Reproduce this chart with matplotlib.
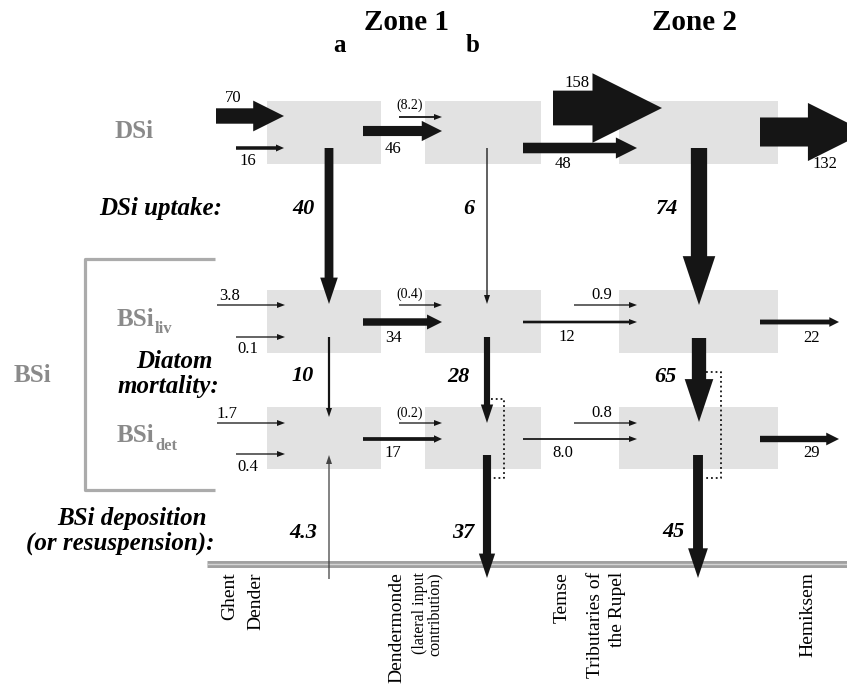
"""
Si budget of the upper Scheldt estuary (zone 1 a/b, zone 2)
DSi / BSi fluxes redrawn as a box-and-arrow diagram
"""

import matplotlib
matplotlib.use('Agg')
import matplotlib.pyplot as plt
from matplotlib.patches import FancyArrow, Rectangle

plt.rcParams['font.family'] = ['Liberation Serif', 'DejaVu Serif']

# ---- data: fluxes as printed in the figure ----
# horizontal fluxes per row: upper input, lower input, lateral (b), a->b, zone2 input, b->zone2, export
dsi_flux = ['70', '16', '(8.2)', '46', '158', '48', '132']
liv_flux = ['3.8', '0.1', '(0.4)', '34', '0.9', '12', '22']
det_flux = ['1.7', '0.4', '(0.2)', '17', '0.8', '8.0', '29']
# vertical fluxes per column (a, b, zone 2)
uptake = ['40', '6', '74']
mortality = ['10', '28', '65']
deposition = ['-4.3', '37', '45']   # negative = resuspension (arrow goes up)

zones = ['Zone 1', 'Zone 2']
segments = ['a', 'b']
pool_names = ['DSi', 'BSi']
process_names = ['DSi uptake:', 'Diatom', 'mortality:', 'BSi deposition', '(or resuspension):']
stations = ['Ghent', 'Dender', 'Dendermonde', 'Temse', 'Tributaries of', 'the Rupel', 'Hemiksem']

# ---- layout (pixel coordinates, y downwards) ----
BLACK = '#151515'
GREY_TXT = '#8a8a8a'
BOX = '#e2e2e2'

box_cols = [(267, 381), (425, 541), (619, 778)]
box_rows = [(101, 164), (290, 353), (407, 469)]

# (x0, x1, y, label x, label y)
dsi_pos = [(216, 284, 116, 233, 98), (236, 284, 148, 248, 161), (399, 442, 117, 410, 105),
           (363, 442, 131, 393, 149), (553, 662, 108, 577, 83), (523, 637, 148, 563, 164),
           (760, 866, 132, 825, 164)]
liv_pos = [(217, 285, 305, 230, 296), (236, 285, 337, 248, 349), (399, 442, 305, 410, 294),
           (363, 442, 322, 393, 338), (574, 637, 305, 602, 295), (523, 637, 322, 567, 337),
           (760, 839, 322, 812, 338)]
det_pos = [(217, 285, 423, 227, 414), (236, 285, 454, 248, 467), (399, 442, 423, 410, 413),
           (363, 442, 439, 393, 453), (574, 637, 423, 602, 413), (523, 637, 439, 563, 453),
           (760, 839, 439, 812, 453)]
# (x, y top, y bottom, label x, label y)
uptake_pos = [(329, 148, 304, 303, 209), (487, 148, 304, 469, 209), (699, 148, 305, 666, 209)]
mort_pos = [(329, 337, 417, 303, 376), (487, 337, 423, 458, 377), (699, 338, 422, 665, 377)]
depo_pos = [(329, 455, 579, 303, 533), (487, 455, 578, 463, 533), (698, 455, 578, 673, 532)]


def flux_value(s):
    return float(s.strip('()'))


def shaft_width(v):
    return max(0.22 * abs(v), 1.3)


def h_arrow(ax, x0, x1, y, v):
    w = shaft_width(v)
    hw = max(2 * w, 6)
    hl = max(2 * w, 8)
    ax.add_patch(FancyArrow(x0, y, x1 - x0, 0, width=w, head_width=hw, head_length=hl,
                            length_includes_head=True, color=BLACK, lw=0, zorder=3))


def v_arrow(ax, x, y0, y1, v, color=BLACK):
    w = shaft_width(v)
    hw = max(2 * w, 6)
    hl = max(3 * w, 9)
    ax.add_patch(FancyArrow(x, y0, 0, y1 - y0, width=w, head_width=hw, head_length=hl,
                            length_includes_head=True, color=color, lw=0, zorder=3))


fig = plt.figure(figsize=(8.47, 6.84), dpi=100)
ax = fig.add_axes([0, 0, 1, 1])
ax.set_xlim(0, 847)
ax.set_ylim(684, 0)
ax.axis('off')

# grey boxes
for (x0, x1) in box_cols:
    for (y0, y1) in box_rows:
        ax.add_patch(Rectangle((x0, y0), x1 - x0, y1 - y0, color=BOX, lw=0, zorder=0))

# horizontal fluxes
for fluxes, pos in [(dsi_flux, dsi_pos), (liv_flux, liv_pos), (det_flux, det_pos)]:
    for lab, (x0, x1, y, lx, ly) in zip(fluxes, pos):
        h_arrow(ax, x0, x1, y, flux_value(lab))
        fs = 10 if lab.startswith('(') else 12
        ax.text(lx, ly, lab, fontsize=fs, ha='center', va='center', zorder=4)

# vertical fluxes
for fluxes, pos in [(uptake, uptake_pos), (mortality, mort_pos), (deposition, depo_pos)]:
    for lab, (x, ya, yb, lx, ly) in zip(fluxes, pos):
        v = flux_value(lab)
        if v < 0:
            v_arrow(ax, x, yb, ya, v, color='#444444')
        else:
            v_arrow(ax, x, ya, yb, v)
        ax.text(lx, ly, lab.lstrip('-'), fontsize=16, fontweight='bold', fontstyle='italic',
                ha='center', va='center')

# dotted by-pass brackets (deposition of living cells)
for (xa, xb, ya, yb) in [(491, 504, 399, 478), (706, 721, 372, 478)]:
    ax.plot([xa, xb, xb, xa], [ya, ya, yb, yb], ls=':', color=BLACK, lw=1.3, zorder=2)

# BSi bracket
ax.plot([215, 85, 85, 215], [259, 259, 490, 490], color='#ababab', lw=2.3, solid_capstyle='butt')

# sediment line
ax.plot([207, 847], [563.5, 563.5], color='#a0a0a0', lw=5, solid_capstyle='butt', zorder=1)
ax.plot([207, 847], [563.5, 563.5], color='#d4d4d4', lw=1.0, solid_capstyle='butt', zorder=1)

# headers
ax.text(407, 23, zones[0], fontsize=21, fontweight='bold', ha='center', va='center')
ax.text(695, 23, zones[1], fontsize=21, fontweight='bold', ha='center', va='center')
ax.text(339, 45, segments[0], fontsize=18, fontweight='bold', ha='center', va='center')
ax.text(473, 45, segments[1], fontsize=18, fontweight='bold', ha='center', va='center')

# pool names
ax.text(134, 131, pool_names[0], fontsize=18, fontweight='bold', color=GREY_TXT,
        ha='center', va='center')
ax.text(32, 376, pool_names[1], fontsize=18, fontweight='bold', color=GREY_TXT,
        ha='center', va='center')
ax.text(117, 319, 'BSi', fontsize=18, fontweight='bold', color=GREY_TXT, ha='left', va='center')
ax.text(155, 329, 'liv', fontsize=12, fontweight='bold', color=GREY_TXT, ha='left', va='center')
ax.text(117, 435, 'BSi', fontsize=18, fontweight='bold', color=GREY_TXT, ha='left', va='center')
ax.text(155, 446, 'det', fontsize=12, fontweight='bold', color=GREY_TXT, ha='left', va='center')

# process names
proc_style = dict(fontsize=18, fontweight='bold', fontstyle='italic', ha='right', va='center')
ax.text(222, 209, process_names[0], **proc_style)
ax.text(213, 362, process_names[1], **proc_style)
ax.text(219, 387, process_names[2], **proc_style)
ax.text(207, 519, process_names[3], **proc_style)
ax.text(214, 543, process_names[4], **proc_style)

# stations along the estuary
st_x = [230, 256, 397, 562, 596, 617, 808]
for name, x in zip(stations, st_x):
    ax.text(x, 572, name, fontsize=14, rotation=90, ha='center', va='top')
ax.text(420, 572, '(lateral input', fontsize=11.5, rotation=90, ha='center', va='top')
ax.text(435, 572, 'contribution)', fontsize=11.5, rotation=90, ha='center', va='top')

fig.savefig('out.png', dpi=100)
